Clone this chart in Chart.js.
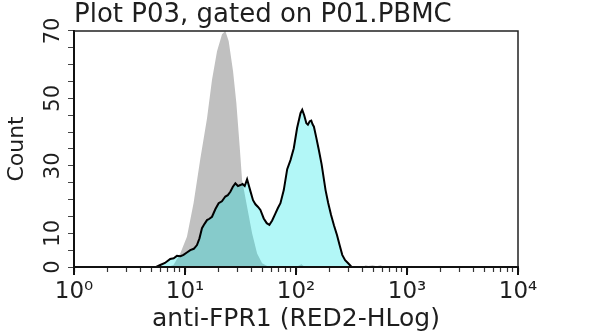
<!DOCTYPE html>
<html lang="en">
<head>
    <meta charset="UTF-8">
    <title>Plot P03, gated on P01.PBMC</title>
    <script src="https://cdn.jsdelivr.net/npm/chart.js"></script>
    <style>
        html, body { margin: 0; padding: 0; background: #fff; }
        canvas { display: block; }
    </style>
</head>
<body>
    <canvas id="histChart" width="600" height="335"></canvas>

    <script>
        const plotTitle = 'Plot P03, gated on P01.PBMC';
        const xTitle = 'anti-FPR1 (RED2-HLog)';
        const yTitle = 'Count';
        const yTickLabels = [0, 10, 30, 50, 70];
        const decadeLabels = { 1: '10⁰', 10: '10¹', 100: '10²', 1000: '10³', 10000: '10⁴' };
        const decades = [1, 10, 100, 1000];
        const minorSteps = [1, 2, 3, 4, 5, 6, 7, 8, 9];

        // control (gray) histogram
        const grayX = [7.0, 7.88, 9.06, 10.41, 11.95, 13.73, 15.78, 17.51, 19.43, 21.56, 23.09, 24.74, 27.1, 29.02,
            31.09, 32.68, 36.26, 40.22, 44.63, 49.53, 54.95, 60, 100, 112, 120, 400, 424, 450, 490, 530, 579, 620,
            1080, 1104, 1130, 1540, 1571, 1600];
        const grayCounts = [0, 0.6, 4, 9, 19, 32, 44, 55.5, 64, 69, 70, 67, 58, 48.6,
            35.7, 25.8, 17.9, 10, 4, 1.1, 0.3, 0, 0, 0.8, 0, 0, 0.5, 0.3, 0.5, 0.2, 0.5, 0,
            0, 0.4, 0, 0, 0.4, 0];

        // anti-FPR1 (cyan) histogram
        const cyanX = [5.5, 5.98, 6.6, 7.36, 7.9, 8.46, 9.1, 9.7, 10.4, 11.15, 12.0, 12.82, 13.5, 14.22, 15.0, 15.78,
            16.6, 17.51, 18.8, 20.09, 21.5, 23.09, 24.3, 25.62, 27.0, 28.43, 30.0, 31.54, 33.0, 34.5, 36.26,
            38.84, 41.0, 43.1, 45.5, 47.8, 51.2, 54.5, 57.6, 61.0, 65.3, 68.7, 72.4, 77.6, 83.3, 89.2, 95.5,
            102.3, 109.8, 113.8, 118.5, 124, 128, 133, 137.2, 141, 145, 152, 160.6, 170, 184.6, 195, 207, 220,
            234, 247, 261, 277, 295, 317];
        const cyanCounts = [0, 0.6, 1.2, 2.4, 2.6, 3.3, 3.2, 3.6, 4.3, 5.0, 5.4, 6.5, 8.5, 11.5, 12.8, 13.9,
            14.3, 14.9, 17.2, 18.9, 19.5, 20.9, 21.3, 22.3, 23.8, 24.8, 24.0, 24.3, 24.6, 24.0, 26.0,
            22.5, 19.8, 18.6, 17.8, 16.9, 14.4, 13.0, 12.5, 13.8, 15.9, 17.5, 18.9, 22.8, 29.0, 31.7, 35.2,
            41.2, 45.6, 46.6, 45.0, 42.6, 42.2, 43.2, 43.4, 42.3, 41.6, 38.5, 34.7, 30.5, 22.8, 19.0, 15.4, 12.3,
            9.5, 6.5, 3.6, 2.0, 1.1, 0];

        const textColor = '#1e1e1e';
        const fontFamily = '"DejaVu Sans", Verdana, sans-serif';

        const isDecade = v => Math.abs(Math.log10(v) - Math.round(Math.log10(v))) < 1e-6;

        // 1..9 x 10^k ticks plus the last decade
        const xTickValues = decades.flatMap(d => minorSteps.map(m => m * d)).concat([10000]);

        // top/right frame, and longer marks at the decades
        const framePlugin = {
            id: 'frame',
            afterRender(chart) {
                const c = chart.ctx;
                const a = chart.chartArea;
                const xs = chart.scales.x;
                c.save();
                c.setTransform(1, 0, 0, 1, 0, 0);
                c.strokeStyle = '#222';
                c.lineWidth = 1.5;
                c.beginPath();
                c.moveTo(a.left, a.top);
                c.lineTo(a.right, a.top);
                c.lineTo(a.right, a.bottom);
                c.stroke();

                c.strokeStyle = '#111';
                c.lineWidth = 2;
                decades.concat([10000]).forEach(v => {
                    const px = Math.round(xs.getPixelForValue(v));
                    c.beginPath();
                    c.moveTo(px, a.bottom);
                    c.lineTo(px, a.bottom + 8);
                    c.stroke();
                });
                c.restore();
            }
        };

        new Chart(document.getElementById('histChart'), {
            type: 'line',
            data: {
                datasets: [
                    {
                        label: 'anti-FPR1',
                        data: cyanX.map((v, i) => ({ x: v, y: cyanCounts[i] })),
                        borderColor: '#000',
                        borderWidth: 2,
                        backgroundColor: 'rgba(0, 230, 230, 0.3)',
                        fill: 'origin',
                        pointRadius: 0,
                        tension: 0
                    },
                    {
                        label: 'control',
                        data: grayX.map((v, i) => ({ x: v, y: grayCounts[i] })),
                        borderColor: 'rgba(0,0,0,0)',
                        borderWidth: 0,
                        backgroundColor: '#c0c0c0',
                        fill: 'origin',
                        pointRadius: 0,
                        tension: 0
                    }
                ]
            },
            options: {
                responsive: false,
                animation: false,
                layout: { padding: { left: 0, right: 82, top: 0, bottom: 0 } },
                plugins: {
                    legend: { display: false },
                    tooltip: { enabled: false },
                    title: {
                        display: true,
                        text: plotTitle,
                        align: 'start',
                        fullSize: false,
                        color: textColor,
                        font: { family: fontFamily, size: 26, weight: 'normal', lineHeight: 1.15 },
                        padding: { top: 0, bottom: 1 }
                    }
                },
                scales: {
                    x: {
                        type: 'logarithmic',
                        min: 1,
                        max: 10000,
                        afterBuildTicks: s => { s.ticks = xTickValues.map(v => ({ value: v, major: isDecade(v) })); },
                        afterFit: s => { s.height = 68; s.paddingLeft = 0; s.paddingRight = 0; },
                        grid: {
                            display: true,
                            drawOnChartArea: false,
                            drawTicks: true,
                            tickLength: 5,
                            tickColor: '#333',
                            tickWidth: 1.2
                        },
                        border: { display: true, color: '#111', width: 2, z: 1 },
                        ticks: {
                            autoSkip: false,
                            maxRotation: 0,
                            padding: 6,
                            color: textColor,
                            font: { family: fontFamily, size: 23 },
                            callback: v => isDecade(v) ? decadeLabels[Math.round(v)] : ''
                        },
                        title: {
                            display: true,
                            text: xTitle,
                            color: textColor,
                            font: { family: fontFamily, size: 25, lineHeight: 1.1 },
                            padding: { top: 0, bottom: 2 }
                        }
                    },
                    y: {
                        min: 0,
                        max: 70,
                        afterFit: s => { s.width = 74; s.paddingTop = 0; s.paddingBottom = 0; },
                        grid: { drawOnChartArea: false, drawTicks: true, tickLength: 6, tickColor: '#444', tickWidth: 1 },
                        border: { display: true, color: '#111', width: 2 },
                        ticks: {
                            stepSize: 5,
                            autoSkip: false,
                            minRotation: 90,
                            maxRotation: 90,
                            crossAlign: 'center',
                            padding: 1,
                            color: textColor,
                            font: { family: fontFamily, size: 21 },
                            callback: v => yTickLabels.includes(v) ? String(v) : ''
                        },
                        title: {
                            display: true,
                            text: yTitle,
                            color: textColor,
                            font: { family: fontFamily, size: 22, lineHeight: 1.2 },
                            padding: { top: 4, bottom: 0 }
                        }
                    }
                }
            },
            plugins: [framePlugin]
        });
    </script>
</body>
</html>
